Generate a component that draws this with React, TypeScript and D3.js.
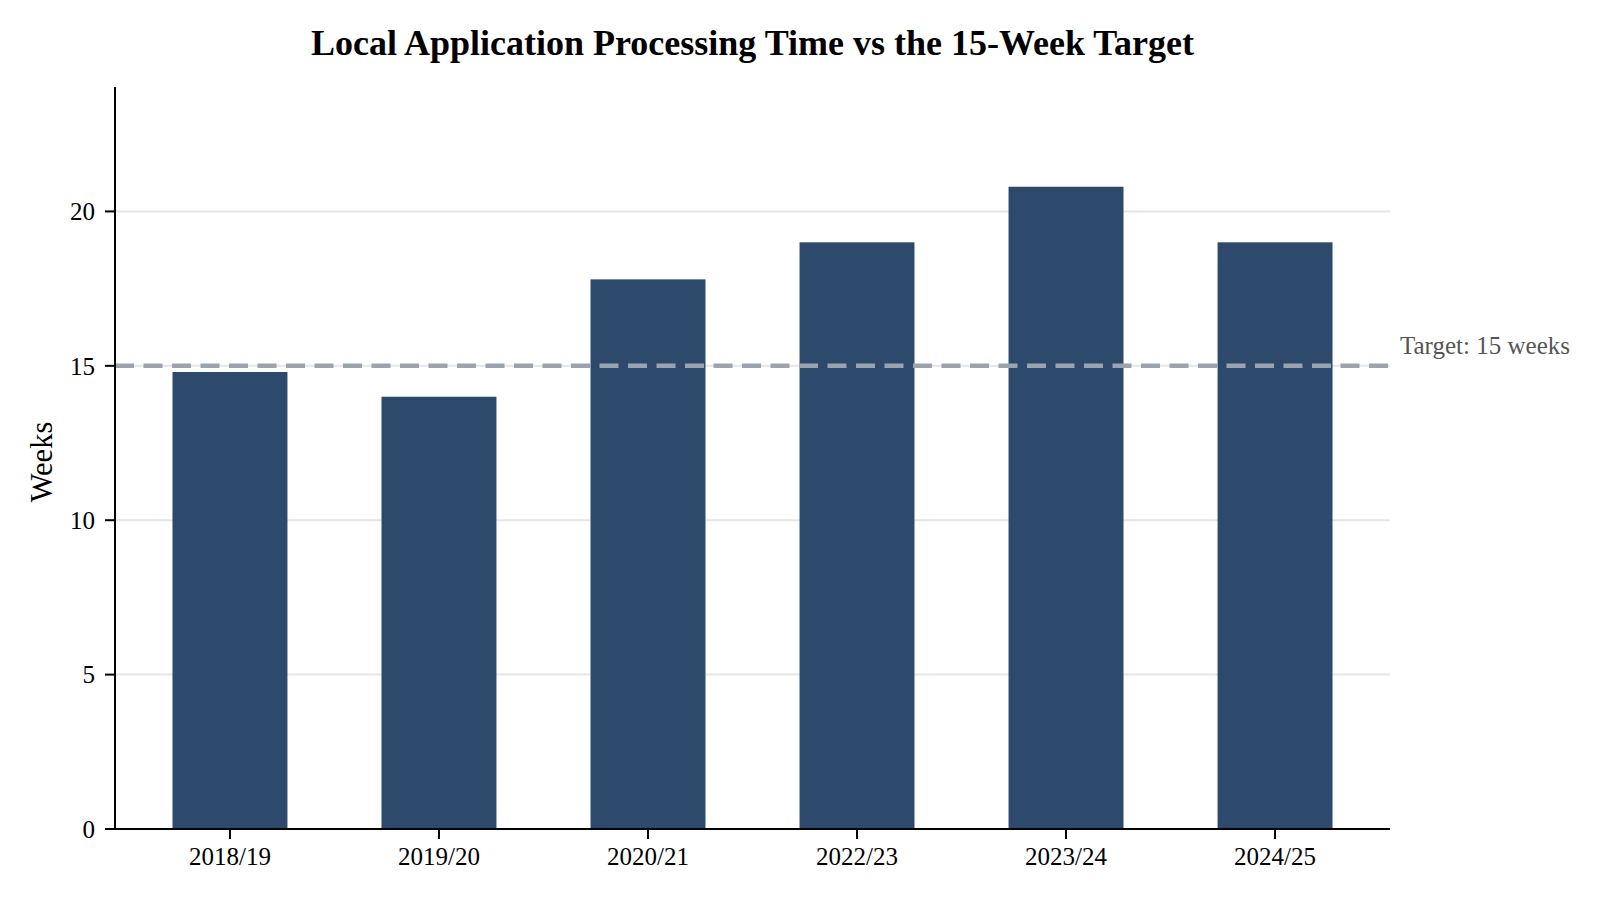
import React from "react";
import * as d3 from "d3";

const categories = ["2018/19", "2019/20", "2020/21", "2022/23", "2023/24", "2024/25"];
const weeks = [14.8, 14.0, 17.8, 19.0, 20.8, 19.0];
const yTicks = [0, 5, 10, 15, 20];
const targetValue = 15;
const targetLabel = "Target: 15 weeks";
const title = "Local Application Processing Time vs the 15-Week Target";
const yLabel = "Weeks";

const W = 1600;
const H = 900;
const left = 115;
const right = 1390;
const top = 87;
const bottom = 829;
const FONT = "'Liberation Serif', 'Times New Roman', serif";

export default function App() {
  const x = d3
    .scaleBand<string>()
    .domain(categories)
    .range([left, right])
    .paddingInner(0.45)
    .paddingOuter(0.275);
  const y = d3.scaleLinear().domain([0, 24.03]).range([bottom, top]);

  return (
    <div style={{ position: "absolute", left: 0, top: 0 }}>
      <svg width={W} height={H} style={{ display: "block", background: "#fff" }} fontFamily={FONT}>
        {/* gridlines */}
        {yTicks
          .filter((t) => t > 0)
          .map((t) => (
            <line key={"g" + t} x1={left} x2={right} y1={y(t)} y2={y(t)} stroke="#e5e5e5" strokeWidth={2} />
          ))}
        {/* bars */}
        {categories.map((c, i) => (
          <rect
            key={c}
            x={x(c)}
            y={y(weeks[i])}
            width={x.bandwidth()}
            height={y(0) - y(weeks[i])}
            fill="#2d4a6c"
          />
        ))}
        {/* target line */}
        <line
          x1={left}
          x2={right}
          y1={y(targetValue)}
          y2={y(targetValue)}
          stroke="#9ba3ae"
          strokeWidth={4.5}
          strokeDasharray="19 9.5"
        />
        <text x={right + 10} y={y(targetValue) - 12} fontSize={25} fill="#555555">
          {targetLabel}
        </text>
        {/* axes */}
        <line x1={left} x2={left} y1={top} y2={bottom + 1} stroke="#000" strokeWidth={2} />
        <line x1={left - 1} x2={right} y1={bottom} y2={bottom} stroke="#000" strokeWidth={2} />
        {yTicks.map((t) => (
          <g key={"y" + t}>
            <line x1={left - 10} x2={left} y1={y(t)} y2={y(t)} stroke="#000" strokeWidth={2} />
            <text x={left - 20} y={y(t)} dy="0.35em" textAnchor="end" fontSize={25} fill="#000">
              {t}
            </text>
          </g>
        ))}
        {categories.map((c) => {
          const cx = (x(c) as number) + x.bandwidth() / 2;
          return (
            <g key={"x" + c}>
              <line x1={cx} x2={cx} y1={bottom} y2={bottom + 10} stroke="#000" strokeWidth={2} />
              <text x={cx} y={bottom + 36} textAnchor="middle" fontSize={25} fill="#000">
                {c}
              </text>
            </g>
          );
        })}
        <text
          transform={`translate(52, ${(top + bottom) / 2 + 4}) rotate(-90)`}
          textAnchor="middle"
          fontSize={30.5}
          fill="#000"
        >
          {yLabel}
        </text>
        <text x={(left + right) / 2} y={55} textAnchor="middle" fontSize={36} fontWeight="bold" fill="#000">
          {title}
        </text>
      </svg>
    </div>
  );
}
